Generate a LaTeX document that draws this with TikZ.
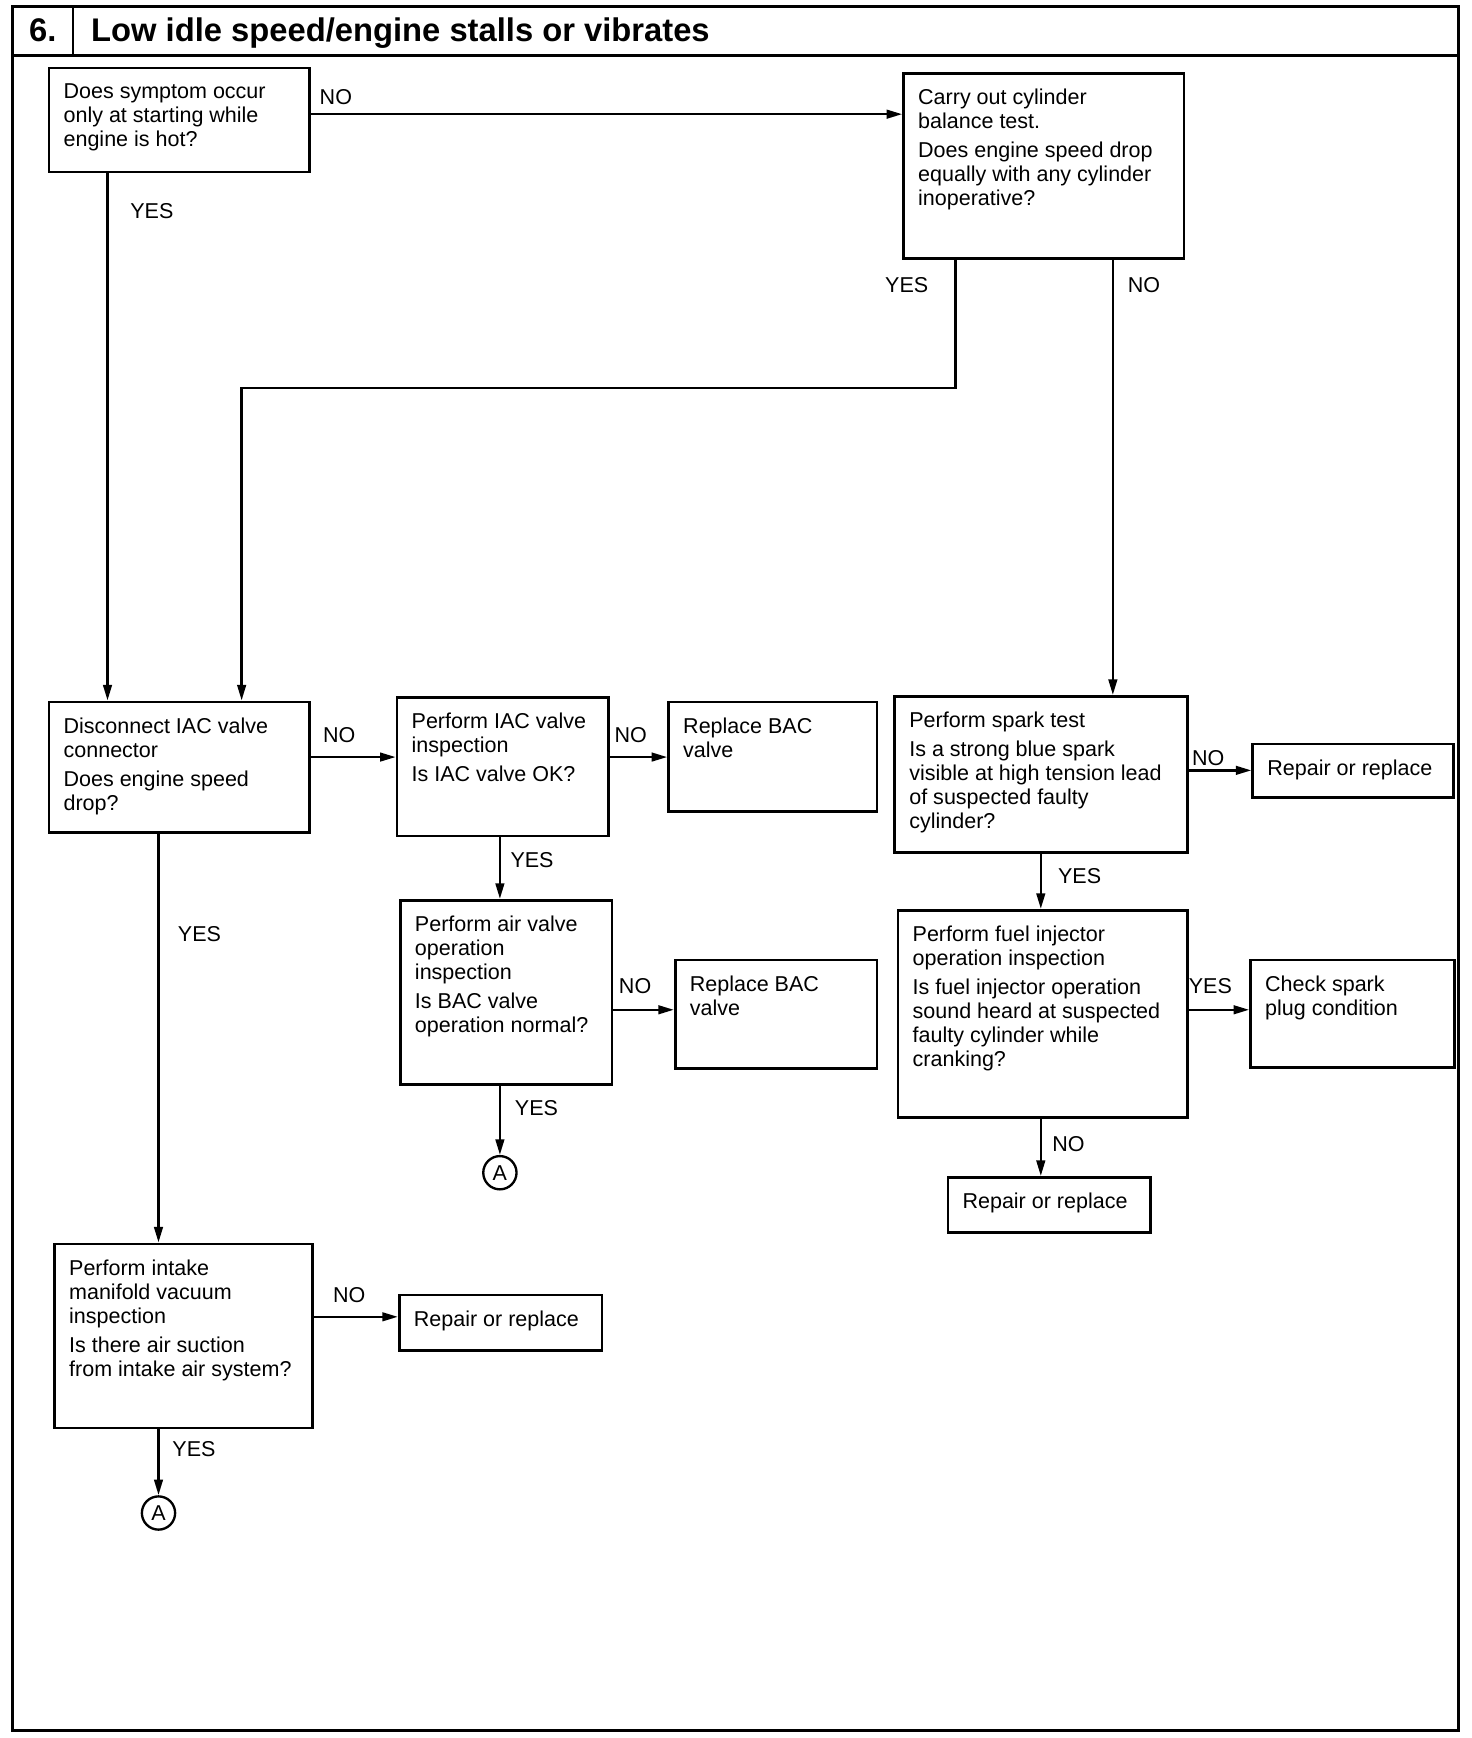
\documentclass[tikz,border=0pt]{standalone}
\usepackage{fontspec}
\setmainfont{Liberation Sans}
\usetikzlibrary{arrows.meta}

\newdimen\pxu
\pxu=0.025cm
\newcommand{\stepfont}{\fontsize{13.8pt}{15.4pt}\selectfont}
\newcommand{\stepbody}[3]{\begin{minipage}[t][\dimexpr#2\pxu-0.72cm\relax][t]{#1\pxu}\stepfont\leftskip=0.33cm\rightskip=0pt plus 1fil\parindent=0pt #3\end{minipage}}

\tikzset{
  stepbox/.style={draw, line width=1.7pt, anchor=north west, inner xsep=0pt, inner ysep=0.36cm},
  answer/.style={font=\stepfont, inner sep=0pt},
  flow/.style={->, line width=1.6pt},
  conn/.style={draw, circle, line width=1.5pt, minimum size=0.75cm, inner sep=0pt, font=\stepfont}
}

\begin{document}
\begin{tikzpicture}[x=0.025cm, y=-0.025cm, >={Triangle[length=10pt,width=5.5pt]}]
    \useasboundingbox (0,0) rectangle (1328,1568);

    % Frame and title bar
    \draw[line width=2pt] (11,6) rectangle (1316,1561);
    \draw[line width=1.6pt] (11,50) -- (1316,50);
    \draw[line width=1.6pt] (66,6) -- (66,50);
    \node[anchor=base west, inner sep=0pt, font=\fontsize{21pt}{24pt}\bfseries] (num) at (26,37) {6.};
    \node[anchor=base west, inner sep=0pt, font=\fontsize{21pt}{24pt}\bfseries] (title) at (82,37) {Low idle speed/engine stalls or vibrates};

    % Boxes
    \node[stepbox] (q1) at (43,60) {\stepbody{235}{94}{Does symptom occur\\only at starting while\\engine is hot?}};
    \node[stepbox] (q2) at (814,65) {\stepbody{253}{167}{Carry out cylinder\\balance test.\\[3pt]Does engine speed drop\\equally with any cylinder\\inoperative?}};
    \node[stepbox] (dis) at (43,632) {\stepbody{235}{118}{Disconnect IAC valve\\connector\\[3pt]Does engine speed\\drop?}};
    \node[stepbox] (iac) at (357,628) {\stepbody{191}{125}{Perform IAC valve\\inspection\\[3pt]Is IAC valve OK?}};
    \node[stepbox] (bac1) at (602,632) {\stepbody{188}{99}{Replace BAC\\valve}};
    \node[stepbox] (spark) at (806,627) {\stepbody{264}{141}{Perform spark test\\[3pt]Is a strong blue spark\\visible at high tension lead\\of suspected faulty\\cylinder?}};
    \node[stepbox] (rep1) at (1129,670) {\stepbody{181}{48}{Repair or replace}};
    \node[stepbox] (air) at (360,811) {\stepbody{191}{166}{Perform air valve\\operation\\inspection\\[3pt]Is BAC valve\\operation normal?}};
    \node[stepbox] (bac2) at (608,865) {\stepbody{182}{98}{Replace BAC\\valve}};
    \node[stepbox] (fuel) at (809,820) {\stepbody{261}{187}{Perform fuel injector\\operation inspection\\[3pt]Is fuel injector operation\\sound heard at suspected\\faulty cylinder while\\cranking?}};
    \node[stepbox] (plug) at (1127,865) {\stepbody{184}{97}{Check spark\\plug condition}};
    \node[stepbox] (rep2) at (854,1061) {\stepbody{183}{50}{Repair or replace}};
    \node[stepbox] (intake) at (48,1121) {\stepbody{233}{166}{Perform intake\\manifold vacuum\\inspection\\[3pt]Is there air suction\\from intake air system?}};
    \node[stepbox] (rep3) at (359,1167) {\stepbody{183}{50}{Repair or replace}};

    % Connectors to A
    \node[conn] (a1) at (451,1058) {A};
    \node[conn] (a2) at (143,1365) {A};

    % Arrows
    \draw[flow] (q1.east |- 0,103) -- (q2.west |- 0,103);
    \draw[flow] (q1.south -| 97,0) -- (dis.north -| 97,0);
    \draw[flow] (q2.south -| 862,0) |- (218,350) -- (dis.north -| 218,0);
    \draw[flow] (q2.south -| 1004,0) -- (spark.north -| 1004,0);
    \draw[flow] (dis.east |- 0,683) -- (iac.west |- 0,683);
    \draw[flow] (iac.east |- 0,683) -- (bac1.west |- 0,683);
    \draw[flow] (iac.south -| 451,0) -- (air.north -| 451,0);
    \draw[flow] (air.east |- 0,911) -- (bac2.west |- 0,911);
    \draw[flow] (air.south -| 451,0) -- (a1.north);
    \draw[flow] (dis.south -| 143,0) -- (intake.north -| 143,0);
    \draw[flow] (intake.east |- 0,1188) -- (rep3.west |- 0,1188);
    \draw[flow] (intake.south -| 143,0) -- (a2.north);
    \draw[flow] (spark.east |- 0,695) -- (rep1.west |- 0,695);
    \draw[flow] (spark.south -| 939,0) -- (fuel.north -| 939,0);
    \draw[flow] (fuel.east |- 0,911) -- (plug.west |- 0,911);
    \draw[flow] (fuel.south -| 939,0) -- (rep2.north -| 939,0);

    % Answers
    \node[answer] (n1) at (303,88) {NO};
    \node[answer] (y1) at (137,190) {YES};
    \node[answer] (y2) at (818,257) {YES};
    \node[answer] (n2) at (1032,257) {NO};
    \node[answer] (n3) at (306,663) {NO};
    \node[answer] (n4) at (569,663) {NO};
    \node[answer] (y3) at (480,776) {YES};
    \node[answer] (n5) at (573,890) {NO};
    \node[answer] (y4) at (484,1000) {YES};
    \node[answer] (y5) at (180,843) {YES};
    \node[answer] (n6) at (315,1168) {NO};
    \node[answer] (y6) at (175,1307) {YES};
    \node[answer] (n7) at (1090,684) {NO};
    \node[answer] (y7) at (974,790) {YES};
    \node[answer] (y8) at (1092,890) {YES};
    \node[answer] (n8) at (964,1032) {NO};
\end{tikzpicture}
\end{document}
